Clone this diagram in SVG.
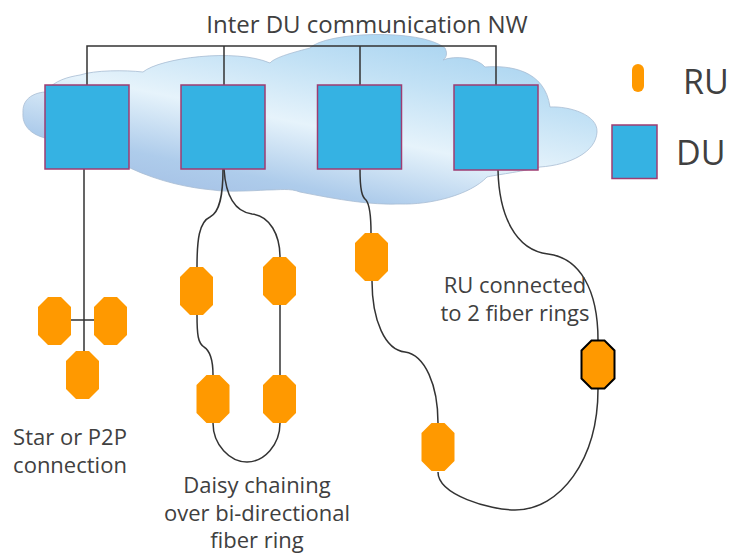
<svg xmlns="http://www.w3.org/2000/svg" width="731" height="554" viewBox="0 0 731 554">
  <style>
    .txt { font-family: "Open Sans", "Liberation Sans", sans-serif; fill: #404040; }
    .lbl { font-size: 22px; text-anchor: middle; }
    .du { fill: #35B2E3; stroke: #9E3C72; stroke-width: 1.5; }
    .ru { fill: #FF9900; }
    .wire { fill: none; stroke: #333333; stroke-width: 1.5; }
  </style>
  <defs>
    <linearGradient id="cloudFill" x1="0.1" y1="1" x2="0.8" y2="0">
      <stop offset="0" stop-color="#9FB9E1"/>
      <stop offset="0.25" stop-color="#AECCEB"/>
      <stop offset="0.5" stop-color="#E6F3FB"/>
      <stop offset="0.75" stop-color="#C2E1F5"/>
      <stop offset="1" stop-color="#A4D1EF"/>
    </linearGradient>
    <polygon id="ruShape" points="-16.5,-14 -6.5,-24 6.5,-24 16.5,-14 16.5,14 6.5,24 -6.5,24 -16.5,14"/>
  </defs>

  <rect width="731" height="554" fill="#FFFFFF"/>

  <!-- network cloud -->
  <path id="cloud" fill="url(#cloudFill)" stroke="#A8BDD3" stroke-width="0.8"
        d="M 23,113 C 22,100 32,93 45,92 C 55,80 68,77 80,75 C 95,70 125,70 143,72
           C 160,58 235,48 270,63 C 275,57 295,52 310,48 C 325,32 420,28 445,48
           C 448,54 446,58 443,60 C 455,55 478,58 485,67 C 510,65 545,70 550,107
           C 570,106 598,115 597,132 C 596,152 570,165 540,167 C 520,172 495,175 487,177
           C 470,195 430,205 400,204 C 370,205 340,200 300,192 C 290,188 280,190 267,190
           C 250,191 225,192 213,190 C 190,188 160,182 130,168 L 45,138
           C 30,134 22,125 23,113 Z"/>

  <text class="txt" x="367" y="33" font-size="24" text-anchor="middle">Inter DU communication NW</text>

  <!-- connectors -->
  <g id="connectors" class="wire">
    <path d="M 87,85 V 46 H 496 V 85 M 224,46 V 85 M 360,46 V 85"/>
    <!-- star -->
    <path d="M 84,169 V 351 M 71,320 H 94"/>
    <!-- daisy chain ring -->
    <path d="M 223,169 C 223,195 220,212 210,217 C 199,222 197,240 197,267"/>
    <path d="M 224,169 C 226,200 238,212 252,214 C 270,216 280,235 280,257"/>
    <path d="M 197,315 C 197,335 198,343 204,347 C 212,352 213,365 213,375"/>
    <path d="M 280,305 V 375"/>
    <path d="M 213,423 C 213,445 230,462 247,462 C 264,462 280,445 280,423"/>
    <!-- two fiber rings -->
    <path d="M 360,169 C 360,190 362,197 366,200 C 370,205 371,215 371,233"/>
    <path d="M 372,281 C 372,320 385,350 405,352 C 425,355 438,385 438,423"/>
    <path d="M 438,472 C 438,495 490,510 515,510 C 560,510 598,460 598,389"/>
    <path d="M 498,170 C 499,215 515,250 548,254 C 580,258 598,290 598,340"/>
  </g>

  <!-- DUs -->
  <g id="du1"><rect class="du" x="45" y="85" width="84" height="84"/></g>
  <g id="du2"><rect class="du" x="181" y="85" width="84" height="84"/></g>
  <g id="du3"><rect class="du" x="317.5" y="85" width="84" height="84"/></g>
  <g id="du4"><rect class="du" x="454" y="85" width="84" height="85"/></g>

  <!-- RUs: star -->
  <g id="ru-star-left"><use href="#ruShape" class="ru" x="54.5" y="321"/></g>
  <g id="ru-star-right"><use href="#ruShape" class="ru" x="110.5" y="321"/></g>
  <g id="ru-star-bottom"><use href="#ruShape" class="ru" x="82.5" y="375"/></g>

  <!-- RUs: daisy chain -->
  <g id="ru-ring-a"><use href="#ruShape" class="ru" x="196.5" y="291"/></g>
  <g id="ru-ring-b"><use href="#ruShape" class="ru" x="279.5" y="281"/></g>
  <g id="ru-ring-c"><use href="#ruShape" class="ru" x="213" y="399"/></g>
  <g id="ru-ring-d"><use href="#ruShape" class="ru" x="279.5" y="399"/></g>

  <!-- RUs: two rings -->
  <g id="ru-dual-e"><use href="#ruShape" class="ru" x="371.5" y="257"/></g>
  <g id="ru-dual-f"><use href="#ruShape" class="ru" x="438" y="447"/></g>
  <g id="ru-dual-g"><use href="#ruShape" class="ru" x="598" y="364.5" stroke="#000000" stroke-width="2"/></g>

  <!-- labels -->
  <g id="label-star" class="txt lbl">
    <text x="70" y="445">Star or P2P</text>
    <text x="70" y="473">connection</text>
  </g>
  <g id="label-daisy" class="txt lbl">
    <text x="257" y="493">Daisy chaining</text>
    <text x="257" y="521">over bi-directional</text>
    <text x="257" y="548">fiber ring</text>
  </g>
  <g id="label-dual" class="txt lbl">
    <text x="515" y="293">RU connected</text>
    <text x="515" y="321">to 2 fiber rings</text>
  </g>

  <!-- legend -->
  <g id="legend-ru">
    <rect x="632" y="64" width="12" height="28" rx="6" fill="#FF9900"/>
    <text class="txt" x="683" y="94" font-size="34">RU</text>
  </g>
  <g id="legend-du">
    <rect class="du" x="612" y="125" width="45" height="53.5"/>
    <text class="txt" x="676" y="165" font-size="34">DU</text>
  </g>
</svg>
